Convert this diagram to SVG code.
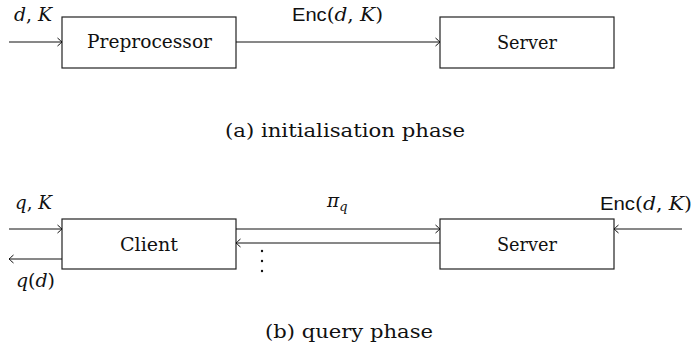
<svg xmlns="http://www.w3.org/2000/svg" width="692" height="351" viewBox="0 0 692 351">
  <defs>
    <marker id="to" viewBox="-6 -5 7 10" refX="0" refY="0" markerWidth="7" markerHeight="10" markerUnits="userSpaceOnUse" orient="auto">
      <path d="M -4.5 -4 Q -1 -1 0 0 Q -1 1 -4.5 4" fill="none" stroke="#111" stroke-width="1"/>
    </marker>
  </defs>
  <style>
    .box { fill: #fff; stroke: #222; stroke-width: 1.2; }
    .edge { fill: none; stroke: #111; stroke-width: 1; marker-end: url(#to); }
    .t { font-family: 'DejaVu Serif', serif; font-size: 18.5px; fill: #111; }
    .lbl { text-anchor: middle; }
    .m { font-style: italic; }
    .sf { font-family: 'Liberation Sans', 'DejaVu Sans', sans-serif; font-style: normal; }
  </style>

  <!-- (a) initialisation phase -->
  <g id="preprocessor">
    <rect class="box" x="62" y="17" width="174" height="51"/>
    <text class="t" x="87" y="48" textLength="125" lengthAdjust="spacingAndGlyphs">Preprocessor</text>
  </g>
  <g id="server-a">
    <rect class="box" x="440" y="17" width="174" height="51"/>
    <text class="t" x="497" y="49" textLength="60" lengthAdjust="spacingAndGlyphs">Server</text>
  </g>
  <g id="connectors-a">
    <line class="edge" x1="9" y1="42" x2="62" y2="42"/>
    <line class="edge" x1="236" y1="42" x2="440" y2="42"/>
  </g>
  <g id="labels-a">
    <text class="t" x="14" y="21" textLength="38" lengthAdjust="spacingAndGlyphs"><tspan class="m">d</tspan>, <tspan class="m">K</tspan></text>
    <text class="t" x="292" y="21" textLength="91" lengthAdjust="spacingAndGlyphs"><tspan class="sf">Enc</tspan>(<tspan class="m">d</tspan>, <tspan class="m">K</tspan>)</text>
  </g>
  <text class="t" x="225" y="137" textLength="240" lengthAdjust="spacingAndGlyphs">(a) initialisation phase</text>

  <!-- (b) query phase -->
  <g id="client">
    <rect class="box" x="62" y="219" width="174" height="50"/>
    <text class="t" x="120" y="251" textLength="58" lengthAdjust="spacingAndGlyphs">Client</text>
  </g>
  <g id="server-b">
    <rect class="box" x="440" y="219" width="174" height="50"/>
    <text class="t" x="497" y="251" textLength="60" lengthAdjust="spacingAndGlyphs">Server</text>
  </g>
  <g id="connectors-b">
    <line class="edge" x1="9" y1="229" x2="62" y2="229"/>
    <line class="edge" x1="62" y1="259" x2="9" y2="259"/>
    <line class="edge" x1="236" y1="229" x2="440" y2="229"/>
    <line class="edge" x1="440" y1="243" x2="236" y2="243"/>
    <line class="edge" x1="682" y1="229" x2="614" y2="229"/>
  </g>
  <g id="labels-b">
    <text class="t" x="15" y="209" textLength="37" lengthAdjust="spacingAndGlyphs"><tspan class="m">q</tspan>, <tspan class="m">K</tspan></text>
    <text class="t" x="16" y="287" textLength="39" lengthAdjust="spacingAndGlyphs"><tspan class="m">q</tspan>(<tspan class="m">d</tspan>)</text>
    <text class="t" x="327" y="207"><tspan class="m">π</tspan><tspan class="m" font-size="13" dy="4">q</tspan></text>
    <text class="t" x="600" y="210" textLength="92" lengthAdjust="spacingAndGlyphs"><tspan class="sf">Enc</tspan>(<tspan class="m">d</tspan>, <tspan class="m">K</tspan>)</text>
    <g id="dots" fill="#111">
      <circle cx="262" cy="251" r="1.2"/>
      <circle cx="262" cy="261" r="1.2"/>
      <circle cx="262" cy="271" r="1.2"/>
    </g>
  </g>
  <text class="t" x="265" y="338" textLength="168" lengthAdjust="spacingAndGlyphs">(b) query phase</text>
</svg>
